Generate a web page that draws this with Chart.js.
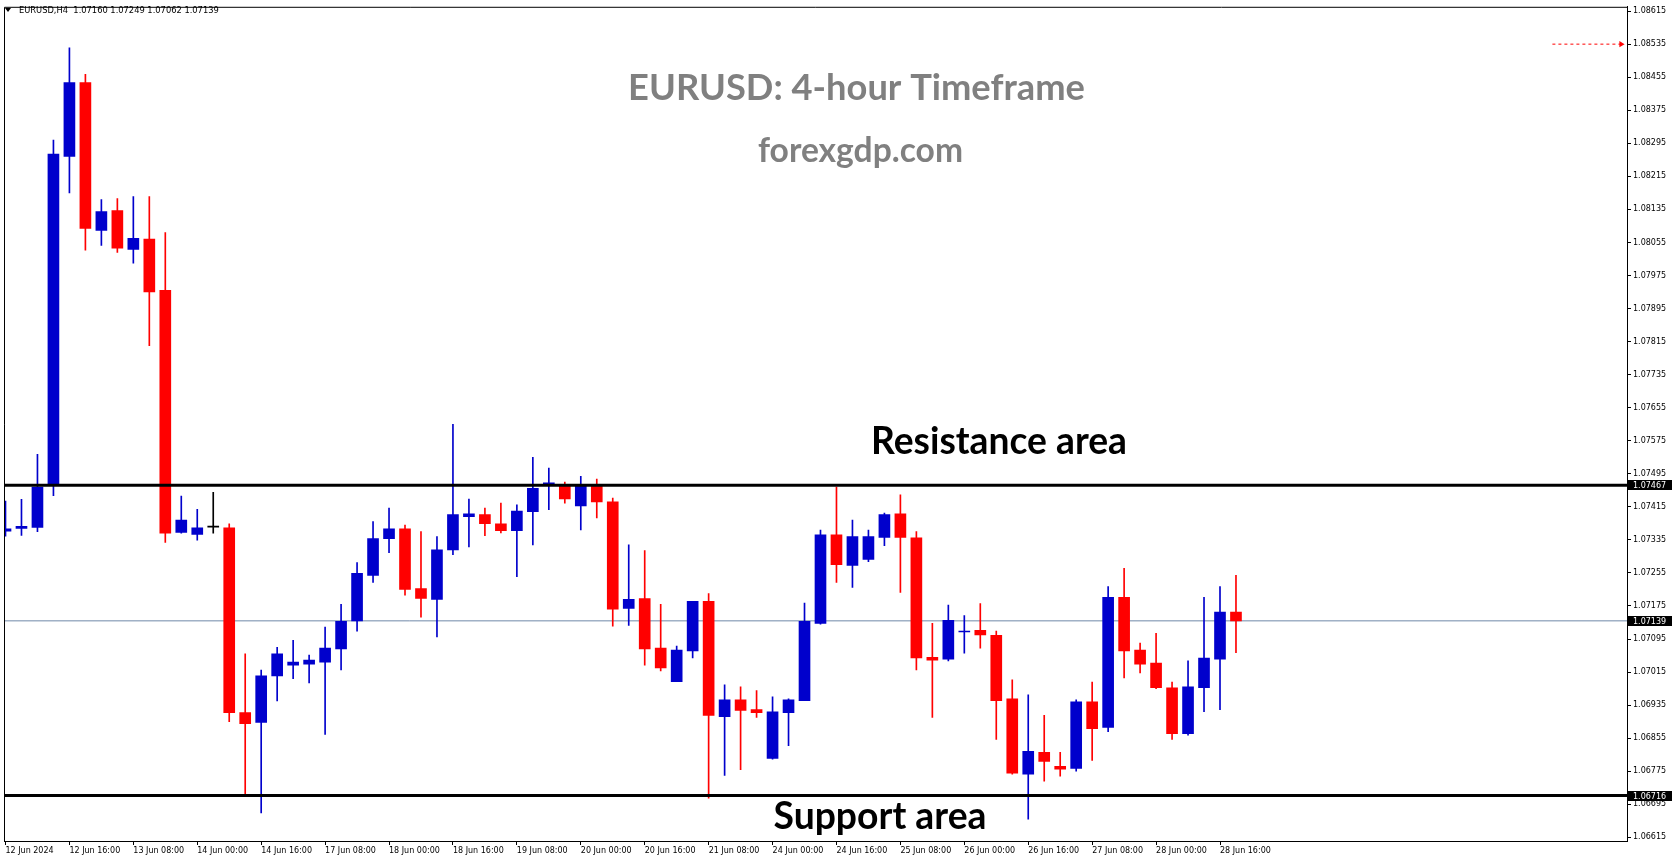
<!DOCTYPE html>
<html>
<head>
<meta charset="utf-8">
<script src="https://cdn.jsdelivr.net/npm/chart.js@4.4.1/dist/chart.umd.min.js"></script>
<style>
  html, body { margin: 0; padding: 0; background: #fff; }
  #wrap { width: 1673px; height: 861px; position: relative; }
</style>
</head>
<body>
<div id="wrap"><canvas id="chart"></canvas></div>
<script>
// EURUSD H4 bars, 12 Jun 2024 00:00 .. 28 Jun 2024 20:00 (78 bars)
const opens = [
  1.07356, 1.07363, 1.07365, 1.07471, 1.08263, 1.08442, 1.08084, 1.08132, 1.08038, 1.08063,
  1.07939, 1.07353, 1.07348, 1.07366, 1.07364, 1.06917, 1.06893, 1.07006, 1.07032, 1.07034,
  1.07039, 1.07071, 1.07139, 1.07249, 1.07338, 1.07362, 1.07217, 1.07191, 1.07311, 1.07391,
  1.07396, 1.07374, 1.07357, 1.07403, 1.07470, 1.07465, 1.07417, 1.07465, 1.07427, 1.07169,
  1.07193, 1.07073, 1.06992, 1.07066, 1.07186, 1.06907, 1.06948, 1.06924, 1.06806, 1.06917,
  1.06946, 1.07133, 1.07347, 1.07273, 1.07288, 1.07341, 1.07398, 1.07340, 1.07051, 1.07046,
  1.07112, 1.07116, 1.07104, 1.06950, 1.06768, 1.06821, 1.06787, 1.06782, 1.06943, 1.06881,
  1.07196, 1.07068, 1.07037, 1.06977, 1.06866, 1.06977, 1.07046, 1.07160
];
const highs = [
  1.07429, 1.07433, 1.07542, 1.08303, 1.08526, 1.08462, 1.08159, 1.08161, 1.08166, 1.08166,
  1.08079, 1.07441, 1.07409, 1.07450, 1.07374, 1.07059, 1.07020, 1.07075, 1.07092, 1.07056,
  1.07124, 1.07179, 1.07280, 1.07379, 1.07412, 1.07371, 1.07355, 1.07343, 1.07615, 1.07434,
  1.07412, 1.07424, 1.07420, 1.07535, 1.07509, 1.07475, 1.07489, 1.07482, 1.07436, 1.07323,
  1.07309, 1.07179, 1.07078, 1.07186, 1.07205, 1.06984, 1.06979, 1.06970, 1.06955, 1.06950,
  1.07182, 1.07359, 1.07463, 1.07383, 1.07359, 1.07400, 1.07444, 1.07355, 1.07133, 1.07177,
  1.07152, 1.07181, 1.07114, 1.06996, 1.06960, 1.06910, 1.06821, 1.06948, 1.06991, 1.07222,
  1.07266, 1.07085, 1.07109, 1.06991, 1.07042, 1.07196, 1.07222, 1.07249
];
const lows = [
  1.07344, 1.07346, 1.07355, 1.07442, 1.08175, 1.08036, 1.08048, 1.08031, 1.08005, 1.07805,
  1.07329, 1.07351, 1.07334, 1.07351, 1.06895, 1.06719, 1.06674, 1.06945, 1.06999, 1.06989,
  1.06864, 1.07020, 1.07114, 1.07232, 1.07304, 1.07201, 1.07148, 1.07100, 1.07299, 1.07318,
  1.07345, 1.07352, 1.07246, 1.07323, 1.07408, 1.07424, 1.07359, 1.07388, 1.07126, 1.07128,
  1.07032, 1.07018, 1.06992, 1.07049, 1.06710, 1.06765, 1.06779, 1.06905, 1.06804, 1.06837,
  1.06946, 1.07131, 1.07232, 1.07220, 1.07282, 1.07321, 1.07208, 1.07020, 1.06905, 1.07042,
  1.07061, 1.07073, 1.06852, 1.06768, 1.06659, 1.06751, 1.06763, 1.06775, 1.06801, 1.06871,
  1.07001, 1.07013, 1.06975, 1.06852, 1.06862, 1.06919, 1.06924, 1.07062
];
const closes = [
  1.07362, 1.07368, 1.07463, 1.08269, 1.08442, 1.08089, 1.08130, 1.08041, 1.08065, 1.07935,
  1.07351, 1.07383, 1.07364, 1.07366, 1.06917, 1.06890, 1.07006, 1.07059, 1.07039, 1.07044,
  1.07073, 1.07138, 1.07254, 1.07338, 1.07362, 1.07215, 1.07193, 1.07311, 1.07396, 1.07398,
  1.07374, 1.07357, 1.07405, 1.07460, 1.07473, 1.07434, 1.07465, 1.07427, 1.07167, 1.07191,
  1.07071, 1.07025, 1.07068, 1.07186, 1.06910, 1.06948, 1.06922, 1.06917, 1.06919, 1.06948,
  1.07138, 1.07347, 1.07275, 1.07343, 1.07343, 1.07396, 1.07341, 1.07049, 1.07044, 1.07140,
  1.07114, 1.07105, 1.06946, 1.06770, 1.06823, 1.06799, 1.06780, 1.06943, 1.06878, 1.07196,
  1.07066, 1.07034, 1.06977, 1.06866, 1.06979, 1.07049, 1.07160, 1.07139
];

// time axis labels, one every 4 bars
const dateLabels = [
  '12 Jun 2024', '12 Jun 16:00', '13 Jun 08:00', '14 Jun 00:00', '14 Jun 16:00',
  '17 Jun 08:00', '18 Jun 00:00', '18 Jun 16:00', '19 Jun 08:00', '20 Jun 00:00',
  '20 Jun 16:00', '21 Jun 08:00', '24 Jun 00:00', '24 Jun 16:00', '25 Jun 08:00',
  '26 Jun 00:00', '26 Jun 16:00', '27 Jun 08:00', '28 Jun 00:00', '28 Jun 16:00'
];
const priceTicks = [
  1.06615, 1.06695, 1.06775, 1.06855, 1.06935, 1.07015, 1.07095, 1.07175, 1.07255,
  1.07335, 1.07415, 1.07495, 1.07575, 1.07655, 1.07735, 1.07815, 1.07895, 1.07975,
  1.08055, 1.08135, 1.08215, 1.08295, 1.08375, 1.08455, 1.08535, 1.08615
];

const resistance = 1.07467;
const support = 1.06716;
const lastPrice = 1.07139;
const markerPrice = 1.08535;
const markerSpan = [96.8, 101.1];

// visible range of the window
const X_MIN = -0.09375, X_MAX = 101.46875;
const Y_MIN = 1.066061, Y_MAX = 1.086254;

const BULL = '#0000cc', BEAR = '#ff0000', DOJI = '#000000';
const colors = opens.map((o, i) => closes[i] > o ? BULL : (closes[i] < o ? BEAR : DOJI));

const wicks = lows.map((l, i) => ({ x: i, y: [l, highs[i]] }));
const bodies = opens.map((o, i) => ({ x: i, y: [o, closes[i]] }));

const tickFont = { family: 'DejaVu Sans', size: 8 };

function fitSize(ctx, text, font, target) {
  ctx.font = font.replace('{s}', '100px');
  return 100 * target / ctx.measureText(text).width;
}

function drawText(ctx, text, cx, baseline, width, color, weight, family) {
  const tpl = weight + ' {s} ' + family;
  const size = fitSize(ctx, text, tpl, width);
  ctx.font = tpl.replace('{s}', size.toFixed(2) + 'px');
  ctx.fillStyle = color;
  ctx.textAlign = 'center';
  ctx.textBaseline = 'alphabetic';
  ctx.fillText(text, cx, baseline);
}

const overlay = {
  id: 'overlay',
  beforeDraw(chart) {
    const ctx = chart.ctx;
    ctx.save();
    ctx.fillStyle = '#fff';
    ctx.fillRect(0, 0, chart.width, chart.height);
    ctx.restore();
  },
  afterDraw(chart) {
    const { ctx, chartArea: a, scales: { y } } = chart;
    ctx.save();
    // frame top and left
    ctx.strokeStyle = '#000';
    ctx.lineWidth = 1;
    ctx.beginPath();
    ctx.moveTo(a.left + 0.5, a.bottom);
    ctx.lineTo(a.left + 0.5, a.top + 0.5);
    ctx.lineTo(a.right, a.top + 0.5);
    ctx.stroke();

    // symbol line
    ctx.fillStyle = '#000';
    ctx.beginPath();
    ctx.moveTo(5, 8); ctx.lineTo(11, 8); ctx.lineTo(8, 12); ctx.closePath();
    ctx.fill();
    const info = 'EURUSD,H4  1.07160 1.07249 1.07062 1.07139';
    const s = fitSize(ctx, info, '{s} DejaVu Sans', 200);
    ctx.font = s.toFixed(2) + 'px DejaVu Sans';
    ctx.textAlign = 'left';
    ctx.textBaseline = 'middle';
    ctx.fillText(info, 19, 11);

    // highlighted prices on the axis
    ctx.font = '8px DejaVu Sans';
    [resistance, lastPrice, support].forEach(v => {
      const py = Math.round(y.getPixelForValue(v));
      ctx.fillStyle = '#000';
      ctx.fillRect(a.right + 1, py - 5, 44, 10);
      ctx.fillStyle = '#fff';
      ctx.fillText(v.toFixed(5), a.right + 6, py + 0.5);
    });

    // captions
    drawText(ctx, 'EURUSD: 4-hour Timeframe', 856.5, 100, 457, '#808080', 'bold', 'Lato');
    drawText(ctx, 'forexgdp.com', 860.5, 161.5, 205, '#808080', 'bold', 'Lato');
    drawText(ctx, 'Resistance area', 999, y.getPixelForValue(resistance) - 31, 256, '#000', 'bold', 'Lato');
    drawText(ctx, 'Support area', 880, y.getPixelForValue(support) + 33, 213, '#000', 'bold', 'Lato');
    ctx.restore();
  }
};

const hline = (v) => [{ x: X_MIN, y: v }, { x: X_MAX, y: v }];

new Chart(document.getElementById('chart'), {
  type: 'bar',
  data: {
    datasets: [
      {
        type: 'line', data: hline(resistance), borderColor: '#000', borderWidth: 3,
        pointRadius: 0, order: 0
      },
      {
        type: 'line', data: hline(support), borderColor: '#000', borderWidth: 3,
        pointRadius: 0, order: 0
      },
      {
        type: 'line',
        data: markerSpan.map(xv => ({ x: xv, y: markerPrice })),
        borderColor: '#ff0000', borderWidth: 1, borderDash: [3, 3],
        pointRadius: [0, 3.5], pointStyle: 'triangle', pointRotation: 90,
        pointBackgroundColor: '#ff0000', pointBorderWidth: 0, order: 0
      },
      {
        data: bodies, backgroundColor: colors, borderWidth: 0,
        barThickness: 11, minBarLength: 1, grouped: false, order: 1
      },
      {
        data: wicks, backgroundColor: colors, borderWidth: 0,
        barThickness: 1, grouped: false, order: 2
      },
      {
        type: 'line', data: hline(lastPrice), borderColor: '#7088a8', borderWidth: 1,
        pointRadius: 0, order: 3
      }
    ]
  },
  options: {
    responsive: true,
    maintainAspectRatio: false,
    animation: false,
    devicePixelRatio: 1,
    layout: { padding: { left: 2, top: 2, right: 0, bottom: 0 } },
    plugins: {
      legend: { display: false },
      tooltip: { enabled: false }
    },
    scales: {
      x: {
        type: 'linear',
        min: X_MIN,
        max: X_MAX,
        bounds: 'data',
        offset: false,
        grid: { display: true, drawOnChartArea: false, drawTicks: true, tickLength: 4, color: '#000', offset: false },
        border: { display: true, color: '#000', width: 1 },
        afterBuildTicks: s => { s.ticks = dateLabels.map((_, k) => ({ value: k * 4 })); },
        afterFit: s => { s.height = 20; },
        ticks: {
          autoSkip: false, maxRotation: 0, minRotation: 0, align: 'start', padding: 1,
          color: '#000', font: tickFont,
          callback: v => dateLabels[Math.round(v / 4)] ?? ''
        }
      },
      y: {
        type: 'linear',
        position: 'right',
        min: Y_MIN,
        max: Y_MAX,
        bounds: 'data',
        grid: { display: true, drawOnChartArea: false, drawTicks: true, tickLength: 4, color: '#000' },
        border: { display: true, color: '#000', width: 1 },
        afterBuildTicks: s => { s.ticks = priceTicks.map(v => ({ value: v })); },
        afterFit: s => { s.width = 46; },
        ticks: {
          autoSkip: false, padding: 2, color: '#000', font: tickFont,
          callback: v => v.toFixed(5)
        }
      }
    }
  },
  plugins: [overlay]
});
</script>
</body>
</html>
